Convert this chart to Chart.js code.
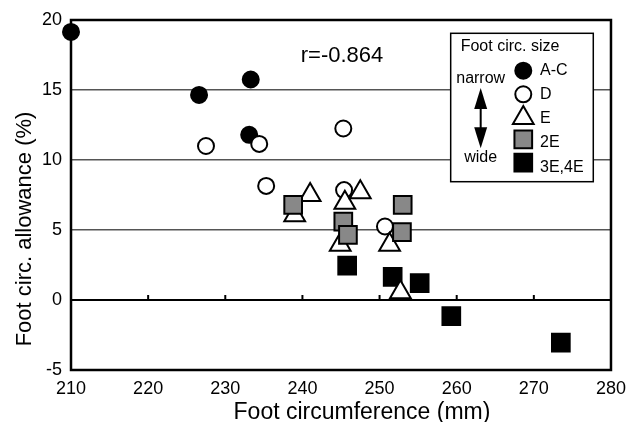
<!DOCTYPE html>
<html><head><meta charset="utf-8">
<script src="https://cdn.jsdelivr.net/npm/chart.js@4.4.0/dist/chart.umd.min.js"></script>
<style>html,body{margin:0;padding:0;background:#fff}#wrap{width:634px;height:422px}</style>
</head><body><div id="wrap"><canvas id="c" width="634" height="422"></canvas></div>
<script>
// ---- data ----
const sizeLabels = ["A-C", "D", "E", "2E", "3E,4E"];
const acX  = [210.0, 226.6, 233.3, 233.1];
const acY  = [19.15, 14.65, 15.75, 11.8];
const dX   = [227.5, 234.4, 235.3, 245.3, 245.4, 250.7];
const dY   = [11.0, 11.15, 8.15, 12.25, 7.85, 5.25];
const eX   = [241.0, 239.0, 245.5, 247.5, 244.9, 251.3, 252.7];
const eY   = [7.5, 6.05, 6.95, 7.7, 3.95, 3.95, 0.55];
const e2X  = [238.8, 245.3, 245.9, 253.0, 252.9];
const e2Y  = [6.8, 5.6, 4.65, 6.8, 4.85];
const e34X = [245.8, 251.7, 255.2, 259.3, 273.5];
const e34Y = [2.45, 1.65, 1.2, -1.15, -3.05];
const xTicks = [210, 220, 230, 240, 250, 260, 270, 280];
const yTicks = [-5, 0, 5, 10, 15, 20];
const corrText = "r=-0.864";
const xTitle = "Foot circumference (mm)";
const yTitle = "Foot circ. allowance (%)";
const legendTitle = "Foot circ. size";
const narrowText = "narrow";
const wideText = "wide";

const FONT = "'Liberation Sans', Arial, Helvetica, sans-serif";
const pts = (xs, ys) => xs.map((v, i) => ({x: v, y: ys[i]}));

const styles = [
  {pointStyle: 'circle',   radius: 8,  bg: '#000', order: 4},
  {pointStyle: 'circle',   radius: 8,  bg: '#fff', order: 3},
  {pointStyle: 'triangle', radius: 12, bg: '#fff', order: 1},
  {pointStyle: 'rect',     radius: 12.5, bg: '#888', order: 0},
  {pointStyle: 'rect',     radius: 12.5, bg: '#000', order: 2}
];
const series = [pts(acX, acY), pts(dX, dY), pts(eX, eY), pts(e2X, e2Y), pts(e34X, e34Y)];

const datasets = series.map((d, i) => ({
  label: sizeLabels[i],
  data: d,
  pointStyle: styles[i].pointStyle,
  pointRadius: styles[i].radius,
  pointHoverRadius: styles[i].radius,
  pointBackgroundColor: styles[i].bg,
  pointBorderColor: '#000',
  pointBorderWidth: 2,
  order: styles[i].order,
  clip: false
}));

const decor = {
  id: 'decor',
  beforeDatasetsDraw(chart) {
    const {ctx, chartArea: a, scales: {x, y}} = chart;
    ctx.save();
    const y0 = y.getPixelForValue(0);
    ctx.strokeStyle = '#000';
    ctx.lineWidth = 2;
    xTicks.forEach(v => {
      if (v > x.min && v < x.max) {
        const px = x.getPixelForValue(v);
        ctx.beginPath(); ctx.moveTo(px, y0); ctx.lineTo(px, y0 - 5); ctx.stroke();
      }
    });
    ctx.lineWidth = 2.5;
    ctx.strokeRect(a.left, a.top, a.right - a.left, a.bottom - a.top);
    ctx.restore();
  },
  afterDatasetsDraw(chart) {
    const {ctx, chartArea: a} = chart;
    ctx.save();
    // correlation text
    ctx.fillStyle = '#000';
    ctx.font = '22px ' + FONT;
    ctx.textAlign = 'center'; ctx.textBaseline = 'middle';
    ctx.fillText(corrText, a.left + 271, a.top + 36);

    // legend box
    const bl = a.right - 160.3, bt = a.top + 13.3, bw = 142.6, bh = 148.4;
    ctx.fillStyle = '#fff';
    ctx.fillRect(bl, bt, bw, bh);
    ctx.strokeStyle = '#000'; ctx.lineWidth = 1.5;
    ctx.strokeRect(bl, bt, bw, bh);
    ctx.fillStyle = '#000';
    ctx.font = '16px ' + FONT;
    ctx.textAlign = 'left'; ctx.textBaseline = 'middle';
    ctx.fillText(legendTitle, bl + 10, bt + 13.5);
    const markY = [37.4, 61, 84.7, 106, 129.4];
    const textY = [37.4, 61, 85, 109, 134];
    datasets.forEach((ds, i) => {
      ctx.fillStyle = ds.pointBackgroundColor;
      ctx.strokeStyle = '#000';
      ctx.lineWidth = 2;
      Chart.helpers.drawPoint(ctx, {pointStyle: ds.pointStyle, radius: ds.pointRadius, rotation: 0, borderWidth: 2}, bl + 72.6, bt + markY[i]);
      ctx.fillStyle = '#000';
      ctx.fillText(ds.label, bl + 89.3, bt + textY[i]);
    });
    // narrow / wide with double arrow
    ctx.textAlign = 'center';
    ctx.fillText(narrowText, bl + 30, bt + 45);
    ctx.fillText(wideText, bl + 30, bt + 124.4);
    const ax = bl + 30, at = bt + 54.7, ab = bt + 115;
    ctx.lineWidth = 2;
    ctx.beginPath(); ctx.moveTo(ax, at + 10); ctx.lineTo(ax, ab - 10); ctx.stroke();
    ctx.beginPath();
    ctx.moveTo(ax, at); ctx.lineTo(ax - 6.5, at + 21); ctx.lineTo(ax + 6.5, at + 21); ctx.closePath(); ctx.fill();
    ctx.beginPath();
    ctx.moveTo(ax, ab); ctx.lineTo(ax - 6.5, ab - 21); ctx.lineTo(ax + 6.5, ab - 21); ctx.closePath(); ctx.fill();

    // axis titles
    ctx.font = '23px ' + FONT;
    ctx.textAlign = 'center'; ctx.textBaseline = 'middle';
    ctx.fillText(xTitle, (a.left + a.right) / 2 + 21, chart.height - 9);
    ctx.save();
    ctx.translate(25, (a.top + a.bottom) / 2 + 34);
    ctx.rotate(-Math.PI / 2);
    ctx.font = '22px ' + FONT;
    ctx.fillText(yTitle, 0, 0);
    ctx.restore();
    ctx.restore();
  }
};

new Chart(document.getElementById('c'), {
  type: 'scatter',
  data: {datasets},
  options: {
    responsive: false,
    devicePixelRatio: 1,
    animation: false,
    layout: {padding: {top: 20, right: 23, left: 0, bottom: 0}},
    plugins: {legend: {display: false}, tooltip: {enabled: false}},
    scales: {
      x: {
        type: 'linear', min: 210, max: 280,
        afterBuildTicks: s => { s.ticks = xTicks.map(v => ({value: v})); },
        afterFit: s => { s.height = 52; },
        ticks: {color: '#000', font: {family: FONT, size: 18}, padding: 8, maxRotation: 0, autoSkip: false},
        grid: {display: false, drawTicks: false},
        border: {display: false}
      },
      y: {
        type: 'linear', min: -5, max: 20,
        afterBuildTicks: s => { s.ticks = yTicks.map(v => ({value: v})); },
        afterFit: s => { s.width = 71; },
        ticks: {color: '#000', font: {family: FONT, size: 18}, padding: 9},
        grid: {
          drawTicks: false,
          color: c => (c.tick && c.tick.value === 0) ? '#000' : '#555',
          lineWidth: c => (c.tick && c.tick.value === 0) ? 2 : 1.5
        },
        border: {display: false}
      }
    }
  },
  plugins: [decor]
});
</script>
</body></html>
